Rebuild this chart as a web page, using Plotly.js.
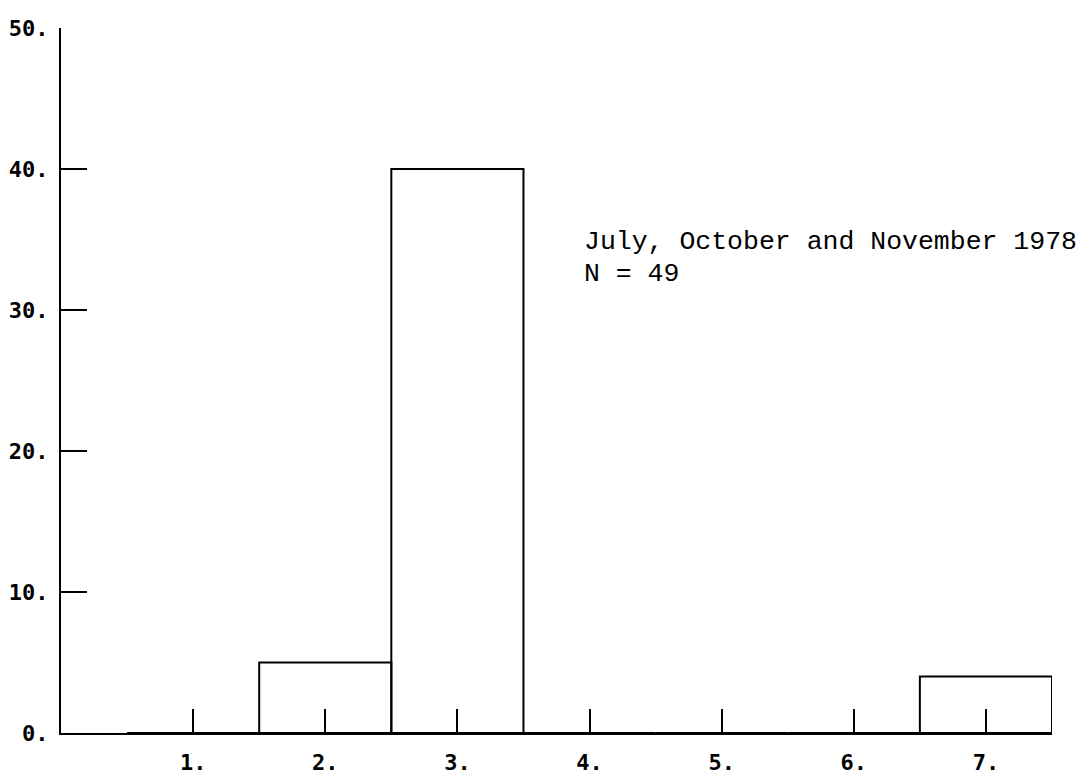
<!DOCTYPE html>
<html>
<head>
<meta charset="utf-8">
<script src="https://cdn.plot.ly/plotly-3.0.1.min.js"></script>
<style>html,body{margin:0;padding:0;background:#fff;}#chart{width:1088px;height:776px;}</style>
</head>
<body>
<div id="chart"></div>
<script>
const categories = [1, 2, 3, 4, 5, 6, 7];
const counts = [0, 5, 40, 0, 0, 0, 4];
const xTickLabels = ["1.", "2.", "3.", "4.", "5.", "6.", "7."];
const yTickValues = [0, 10, 20, 30, 40, 50];
const yTickLabels = ["0.", "10.", "20.", "30.", "40.", "50."];
const noteLines = ["July, October and November 1978", "N = 49"];

const tickFont = {family: "DejaVu Sans Mono", size: 22, color: "#000", weight: "bold"};

const trace = {
  type: "bar",
  x: categories,
  y: counts,
  width: 1,
  marker: {color: "rgba(0,0,0,0)", line: {color: "#000", width: 2}},
  hoverinfo: "skip"
};

const layout = {
  width: 1088, height: 776,
  margin: {l: 61, r: 36, t: 28, b: 43},
  paper_bgcolor: "#fff", plot_bgcolor: "#fff",
  showlegend: false,
  bargap: 0,
  xaxis: {
    range: [0, 7.5],
    tickvals: categories, ticktext: xTickLabels,
    ticks: "inside", ticklen: 24, tickwidth: 2, tickcolor: "#000",
    showline: true, linecolor: "#000", linewidth: 2,
    showgrid: false, zeroline: false,
    tickfont: tickFont, ticklabelstandoff: 9
  },
  yaxis: {
    range: [0, 50],
    tickvals: yTickValues, ticktext: yTickLabels,
    ticks: "inside", ticklen: 26, tickwidth: 2, tickcolor: "#000",
    showline: true, linecolor: "#000", linewidth: 2,
    showgrid: false, zeroline: false,
    tickfont: tickFont, ticklabelstandoff: 6
  },
  annotations: [
    {x: 3.94, y: 34.85, xref: "x", yref: "y", xanchor: "left", yanchor: "middle",
     text: noteLines[0], showarrow: false,
     font: {family: "Liberation Mono", size: 26.5, color: "#000"}},
    {x: 3.94, y: 32.55, xref: "x", yref: "y", xanchor: "left", yanchor: "middle",
     text: noteLines[1], showarrow: false,
     font: {family: "Liberation Mono", size: 26.5, color: "#000"}}
  ]
};

Plotly.newPlot("chart", [trace], layout, {displayModeBar: false, staticPlot: true});
</script>
</body>
</html>
